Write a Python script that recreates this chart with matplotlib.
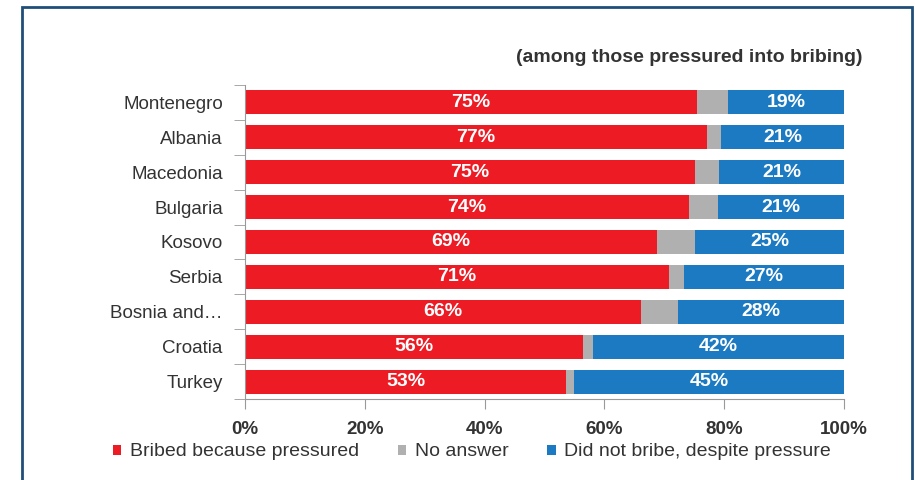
import numpy as np
import matplotlib.pyplot as plt
from matplotlib.patches import Rectangle
from matplotlib.ticker import FuncFormatter

countries = ['Montenegro', 'Albania', 'Macedonia', 'Bulgaria', 'Kosovo',
             'Serbia', 'Bosnia and\u2026', 'Croatia', 'Turkey']
bribed = [75.5, 77.1, 75.1, 74.1, 68.8, 70.8, 66.1, 56.4, 53.6]
no_answer = [5.1, 2.4, 4.0, 4.9, 6.3, 2.5, 6.2, 1.7, 1.3]
not_bribed = [19.4, 20.5, 20.9, 21.0, 24.9, 26.7, 27.7, 41.9, 45.1]
bribed_lbl = ['75%', '77%', '75%', '74%', '69%', '71%', '66%', '56%', '53%']
not_bribed_lbl = ['19%', '21%', '21%', '21%', '25%', '27%', '28%', '42%', '45%']

RED = '#ED1C24'
GRAY = '#B0B0B0'
BLUE = '#1B7AC1'
plt.rcParams['font.family'] = ['Liberation Sans', 'DejaVu Sans']

fig = plt.figure(figsize=(9.15, 4.8), dpi=100)
ax = fig.add_axes([245/915, 1-399/480, 599/915, 314/480])

y = np.arange(len(countries))
h = 0.69
b1 = np.array(bribed)
b2 = b1 + np.array(no_answer)
ax.barh(y, bribed, height=h, color=RED, label='Bribed because pressured')
ax.barh(y, no_answer, left=b1, height=h, color=GRAY, label='No answer')
ax.barh(y, not_bribed, left=b2, height=h, color=BLUE,
        label='Did not bribe, despite pressure')

for i in range(len(countries)):
    ax.text(b1[i]/2, y[i], bribed_lbl[i], ha='center', va='center',
            color='white', fontsize=14, fontweight='bold')
    ax.text(b2[i] + not_bribed[i]/2, y[i], not_bribed_lbl[i], ha='center',
            va='center', color='white', fontsize=14, fontweight='bold')

ax.set_xlim(0, 100)
ax.set_ylim(len(countries)-0.5, -0.5)
ax.set_xticks([0, 20, 40, 60, 80, 100])
ax.xaxis.set_major_formatter(FuncFormatter(lambda v, p: '%d%%' % v))
ax.set_yticks(y)
ax.set_yticklabels(countries, fontsize=13.5)
ax.set_yticks(np.arange(-0.5, len(countries)), minor=True)
ax.tick_params(axis='y', which='major', length=0, pad=16, colors='#333333')
ax.tick_params(axis='y', which='minor', length=8, color='#999999')
ax.tick_params(axis='x', length=7, color='#999999', pad=9, labelsize=13.5,
               labelcolor='#333333')
for t in ax.get_xticklabels():
    t.set_fontweight('bold')
for s in ['top', 'right']:
    ax.spines[s].set_visible(False)
for s in ['left', 'bottom']:
    ax.spines[s].set_color('#999999')

fig.text(862/915, 1-57/480, '(among those pressured into bribing)', ha='right',
         va='center', fontsize=14, fontweight='bold', color='#333333')

ax.legend(loc='center', bbox_to_anchor=(472/915, 1-452/480),
          bbox_transform=fig.transFigure, ncol=3, frameon=False, fontsize=14,
          handlelength=0.42, handleheight=0.42, handletextpad=0.45,
          columnspacing=2.0, labelcolor='#333333')

fig.patches.append(Rectangle((22/915, -0.05), 890/915, 1.05 - 7/480,
                             transform=fig.transFigure, fill=False,
                             edgecolor='#1F4E79', linewidth=2))

fig.savefig('out.png', dpi=100)
